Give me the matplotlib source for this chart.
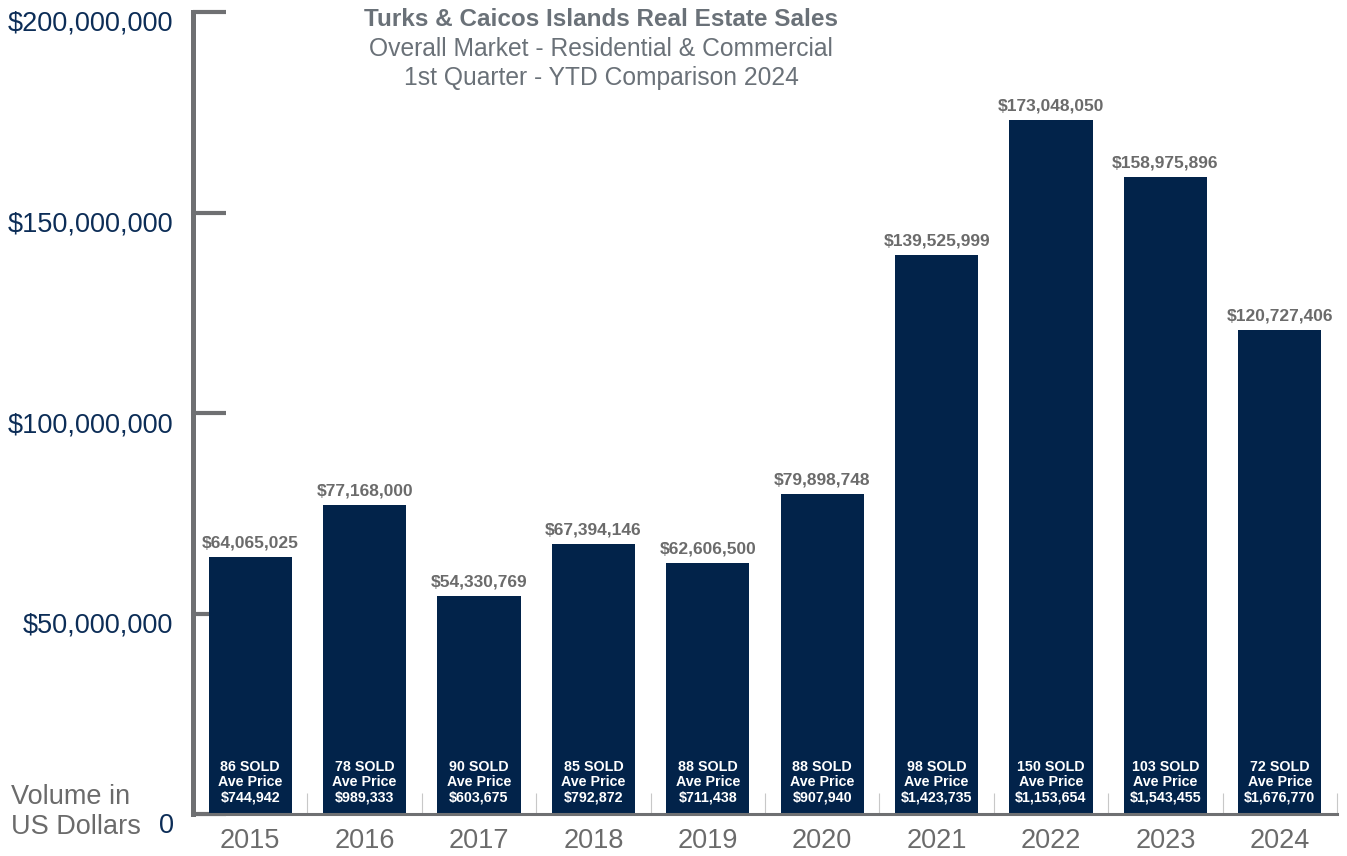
import numpy as np
import matplotlib
matplotlib.use("Agg")
import matplotlib.pyplot as plt
from matplotlib.transforms import ScaledTranslation

plt.rcParams['font.family'] = ['Liberation Sans', 'DejaVu Sans']

# Q1 YTD sales volume by year
years = ['2015', '2016', '2017', '2018', '2019', '2020', '2021', '2022', '2023', '2024']
volume = [64065025, 77168000, 54330769, 67394146, 62606500,
          79898748, 139525999, 173048050, 158975896, 120727406]
units_sold = [86, 78, 90, 85, 88, 88, 98, 150, 103, 72]
ave_price = [744942, 989333, 603675, 792872, 711438,
             907940, 1423735, 1153654, 1543455, 1676770]
y_ticks = [0, 50000000, 100000000, 150000000, 200000000]

NAVY = '#02234a'
GRAY = '#6b6b6b'
AXIS_GRAY = '#6f7072'
TICK_BLUE = '#0c2d57'
TITLE_GRAY = '#6a7178'

fig = plt.figure(figsize=(13.47, 8.56), dpi=100)
ax = fig.add_axes([193 / 1347, 1 - 814 / 856, (1337 - 193) / 1347, (814 - 12) / 856])

x = np.arange(len(years))
bars = ax.bar(x, volume, width=0.726, color=NAVY, zorder=2)

ax.set_xlim(-0.5, len(years) - 0.5)
ax.set_ylim(0, 200000000)

# value labels above each bar
for xi, v in zip(x, volume):
    ax.annotate(f"${v:,.0f}", (xi, v), xytext=(0, 4.5), textcoords='offset points',
                ha='center', va='bottom', fontsize=12.5, fontweight='bold', color=GRAY)

# sold count / average price inside the bar bottom
for xi, n, p in zip(x, units_sold, ave_price):
    ax.annotate(f"{n} SOLD\nAve Price\n${p:,.0f}", (xi, 0), xytext=(0, 7),
                textcoords='offset points', ha='center', va='bottom',
                fontsize=10.3, fontweight='bold', color='white',
                linespacing=1.1, zorder=3)

# spines
for side in ('top', 'right'):
    ax.spines[side].set_visible(False)
ax.spines['left'].set_color(AXIS_GRAY)
ax.spines['left'].set_linewidth(3.6)
ax.spines['bottom'].set_color(AXIS_GRAY)
ax.spines['bottom'].set_linewidth(2.2)

# y axis: long inward ticks, labels dropped a bit below each tick
ax.set_yticks(y_ticks)
ax.set_yticklabels(['0'] + [f"${t:,.0f}" for t in y_ticks[1:]])
ax.tick_params(axis='y', direction='in', length=24, width=3, color=AXIS_GRAY,
               labelsize=19.5, labelcolor=TICK_BLUE, pad=14)
shift = ScaledTranslation(0, -9 / 100, fig.dpi_scale_trans)
for lbl in ax.get_yticklabels():
    lbl.set_transform(lbl.get_transform() + shift)

# x axis: year labels, thin separators between categories
ax.set_xticks(x)
ax.set_xticklabels(years)
ax.tick_params(axis='x', length=0, labelsize=19.5, labelcolor=GRAY, pad=10)
ax.set_xticks(np.arange(0.5, len(years)), minor=True)
ax.tick_params(axis='x', which='minor', direction='in', length=15, width=0.8,
               color='#c8c8c8')

fig.text(11 / 1347, 1 - 812 / 856, "Volume in\nUS Dollars", fontsize=19.5,
         color=GRAY, ha='left', va='center', linespacing=1.15)

# titles
fig.text(601 / 1347, 1 - 20 / 856, "Turks & Caicos Islands Real Estate Sales",
         ha='center', va='center', fontsize=17.5, fontweight='bold', color=TITLE_GRAY)
fig.text(601 / 1347, 1 - 49 / 856, "Overall Market - Residential & Commercial",
         ha='center', va='center', fontsize=17.7, color=TITLE_GRAY)
fig.text(601 / 1347, 1 - 78 / 856, "1st Quarter - YTD Comparison 2024",
         ha='center', va='center', fontsize=17.7, color=TITLE_GRAY)

fig.savefig("out.png", dpi=100)
